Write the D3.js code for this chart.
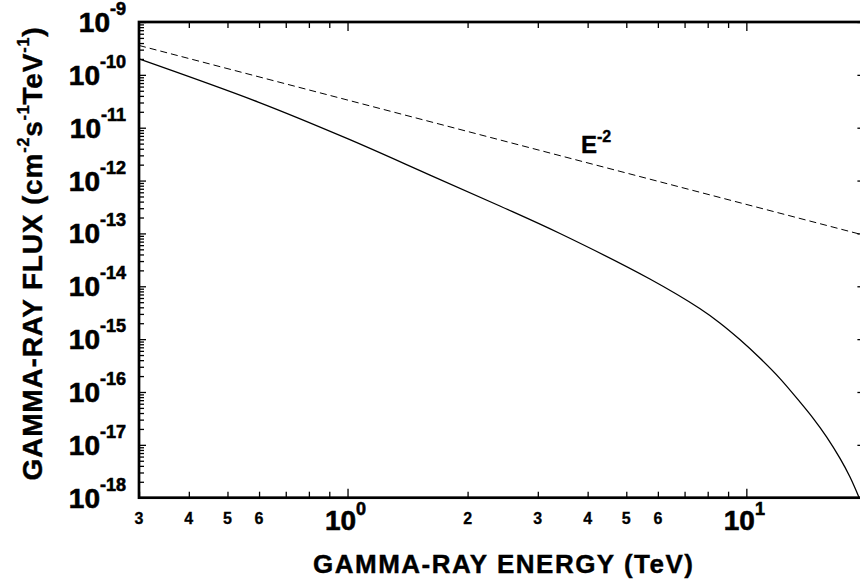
<!DOCTYPE html>
<html>
<head>
<meta charset="utf-8">
<script src="https://cdn.jsdelivr.net/npm/d3@7"></script>
<style>
  html, body { margin: 0; padding: 0; background: #fff; }
  svg { display: block; font-family: "Liberation Sans", Arial, Helvetica, sans-serif; font-weight: bold; }
  .heavy { stroke: #000; stroke-width: 0.6; }
</style>
</head>
<body>
<div id="chart"></div>
<script>
// spectrum (TeV, cm^-2 s^-1 TeV^-1)
const energy = [0.3, 0.597, 1.0, 1.61, 2.41, 3.41, 5.73, 7.64, 8.58, 9.63, 10.81, 12.13, 13.62, 14.71, 15.89, 17.16, 18.18, 19.18];
const flux = [2.0e-10, 3.05e-11, 6.2e-12, 1.27e-12, 3.3e-13, 9.95e-14, 1.37e-14, 3.79e-15, 2.02e-15, 9.8e-16, 4.38e-16, 1.81e-16, 6.5e-17, 3.17e-17, 1.42e-17, 5.6e-18, 2.49e-18, 1.0e-18];

// E^-2 reference line
const refEnergy = [0.3, 20];
const refFlux = [3.6e-10, 9.0e-14];

// ticks
const energyMajor = [1, 10];
const energyMajorExp = ["0", "1"];
const energyMinor = [0.4, 0.5, 0.6, 0.7, 0.8, 0.9, 2, 3, 4, 5, 6, 7, 8, 9];
const energyMinorLabeled = [0.3, 0.4, 0.5, 0.6, 2, 3, 4, 5, 6];
const energyMinorText = ["3", "4", "5", "6", "2", "3", "4", "5", "6"];
const fluxExp = [-18, -17, -16, -15, -14, -13, -12, -11, -10, -9];

const width = 860;
const height = 583;
const plotLeft = 139, plotRight = 866.4, plotTop = 22, plotBottom = 497.7;

const x = d3.scaleLog().domain([0.3, 20]).range([plotLeft, plotRight]);
const y = d3.scaleLog().domain([1e-18, 1e-9]).range([plotBottom, plotTop]);

const fluxMajor = fluxExp.map(e => Math.pow(10, e));
const fluxMinor = [];
fluxExp.slice(0, -1).forEach(e => {
    for (let k = 2; k <= 9; k++) fluxMinor.push(k * Math.pow(10, e));
});

const svg = d3.select("#chart").append("svg")
    .attr("width", width).attr("height", height);

function ticks(axis, transform, size){
    const g = svg.append("g").attr("transform", transform)
        .call(axis.tickSize(size).tickFormat(""));
    g.select(".domain").remove();
    g.selectAll(".tick line").attr("stroke", "#000").attr("stroke-width", 1.3);
    return g;
}

// inward ticks on every side
ticks(d3.axisBottom(x).tickValues(energyMinor.concat([0.3])), `translate(0,${plotBottom})`, -6);
ticks(d3.axisBottom(x).tickValues(energyMajor), `translate(0,${plotBottom})`, -9);
ticks(d3.axisTop(x).tickValues(energyMinor.concat([20])), `translate(0,${plotTop})`, -6);
ticks(d3.axisTop(x).tickValues(energyMajor), `translate(0,${plotTop})`, -9);
ticks(d3.axisLeft(y).tickValues(fluxMinor), `translate(${plotLeft},0)`, -5);
ticks(d3.axisLeft(y).tickValues(fluxMajor), `translate(${plotLeft},0)`, -7);
ticks(d3.axisRight(y).tickValues(fluxMajor), `translate(${plotRight},0)`, -9);

// frame
svg.append("rect")
    .attr("x", plotLeft).attr("y", plotTop)
    .attr("width", plotRight - plotLeft).attr("height", plotBottom - plotTop)
    .attr("fill", "none").attr("stroke", "#000").attr("stroke-width", 2.7);

// curves
const line = d3.line()
    .x(d => x(d[0]))
    .y(d => y(d[1]))
    .curve(d3.curveCatmullRom.alpha(0.5));

svg.append("path")
    .datum(refEnergy.map((e, i) => [e, refFlux[i]]))
    .attr("d", line)
    .attr("fill", "none").attr("stroke", "#000").attr("stroke-width", 1)
    .attr("stroke-dasharray", "7,4");

svg.append("path")
    .datum(energy.map((e, i) => [e, flux[i]]))
    .attr("d", line)
    .attr("fill", "none").attr("stroke", "#000").attr("stroke-width", 1.3);

// y tick labels
fluxExp.forEach(e => {
    const t = svg.append("text")
        .attr("class", "heavy")
        .attr("x", 126).attr("y", y(Math.pow(10, e)) + 10)
        .attr("text-anchor", "end")
        .attr("font-size", 28)
        .text("10");
    t.append("tspan").attr("dy", -17).attr("font-size", 18).text(e);
});

// x tick labels
energyMajor.forEach((v, i) => {
    const t = svg.append("text")
        .attr("class", "heavy")
        .attr("x", x(v) - 2).attr("y", 530)
        .attr("text-anchor", "middle")
        .attr("font-size", 28)
        .text("10");
    t.append("tspan").attr("dy", -15).attr("font-size", 18).text(energyMajorExp[i]);
});
energyMinorLabeled.forEach((v, i) => {
    svg.append("text")
        .attr("class", "heavy")
        .attr("x", x(v)).attr("y", 523.5)
        .attr("text-anchor", "middle")
        .attr("font-size", 16)
        .style("stroke-width", 0.3)
        .text(energyMinorText[i]);
});

// E^-2 label
const lab = svg.append("text")
    .attr("class", "heavy")
    .attr("x", 581).attr("y", 153)
    .attr("font-size", 24)
    .style("stroke-width", 0.4)
    .text("E");
lab.append("tspan").attr("dy", -11).attr("font-size", 16).text("-2");

// axis titles
svg.append("text")
    .attr("class", "heavy")
    .attr("x", 503).attr("y", 573)
    .attr("text-anchor", "middle")
    .attr("font-size", 26)
    .style("stroke-width", 0.4)
    .attr("textLength", 380).attr("lengthAdjust", "spacing")
    .text("GAMMA-RAY ENERGY (TeV)");

const yt = svg.append("text")
    .attr("class", "heavy")
    .attr("transform", "translate(42,254) rotate(-90)")
    .attr("text-anchor", "middle")
    .attr("font-size", 28)
    .style("stroke-width", 0.4)
    .attr("textLength", 453).attr("lengthAdjust", "spacing");
yt.append("tspan").text("GAMMA-RAY FLUX (cm");
yt.append("tspan").attr("dy", -13).attr("font-size", 16).text("-2");
yt.append("tspan").attr("dy", 13).text("s");
yt.append("tspan").attr("dy", -13).attr("font-size", 16).text("-1");
yt.append("tspan").attr("dy", 13).text("TeV");
yt.append("tspan").attr("dy", -13).attr("font-size", 16).text("-1");
yt.append("tspan").attr("dy", 13).text(")");
</script>
</body>
</html>
